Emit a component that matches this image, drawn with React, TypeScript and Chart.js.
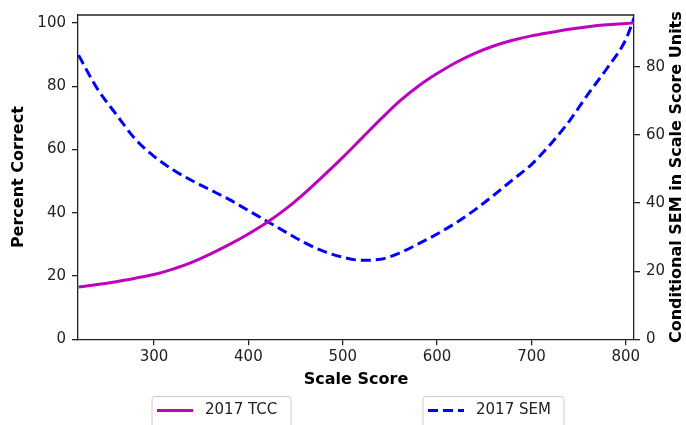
import React, { useEffect, useRef } from "react";
import { Chart, registerables } from "chart.js";

Chart.register(...registerables);

const scores = [220, 240, 260, 280, 300, 320, 340, 360, 380, 400, 420, 440, 460, 480, 500, 520, 540, 560, 580, 600, 620, 640, 660, 680, 700, 720, 740, 760, 780, 800, 809];
const tccValues = [16.5, 17.3, 18.2, 19.3, 20.5, 22.2, 24.3, 27.0, 30.0, 33.3, 37.0, 41.3, 46.3, 51.8, 57.5, 63.5, 69.5, 75.2, 80.0, 84.0, 87.5, 90.4, 92.7, 94.5, 95.9, 97.0, 98.0, 98.8, 99.4, 99.8, 100];
const semValues = [83.4, 73.5, 66.0, 58.8, 53.7, 49.8, 46.6, 43.8, 41.0, 37.8, 34.6, 31.4, 28.3, 25.8, 24.1, 23.2, 23.5, 25.3, 28.0, 30.9, 34.2, 38.0, 42.3, 46.8, 51.3, 57.2, 64.0, 72.0, 79.5, 88.0, 94.5];

const xTicks = [300, 400, 500, 600, 700, 800];
const leftTicks = [0, 20, 40, 60, 80, 100];
const rightTicks = [0, 20, 40, 60, 80];

const seriesLabels = ["2017 TCC", "2017 SEM"];
const xTitle = "Scale Score";
const leftTitle = "Percent Correct";
const rightTitle = "Conditional SEM in Scale Score Units";

const FONT = "'DejaVu Sans', sans-serif";
const INK = "#222";

const extrasPlugin = {
  id: "extras",
  afterDraw(chart: any) {
    const ctx = chart.ctx;
    const ca = chart.chartArea;
    ctx.save();
    // top spine
    ctx.strokeStyle = INK;
    ctx.lineWidth = 1.3;
    ctx.beginPath();
    ctx.moveTo(ca.left, ca.top);
    ctx.lineTo(ca.right, ca.top);
    ctx.stroke();

    // right title (bottom-to-top)
    ctx.fillStyle = "#000";
    ctx.font = `bold 16px ${FONT}`;
    ctx.textAlign = "center";
    ctx.textBaseline = "middle";
    ctx.translate(677, (ca.top + ca.bottom) / 2);
    ctx.rotate(-Math.PI / 2);
    ctx.fillText(rightTitle, 0, 0);
    ctx.restore();

    // legends: two separate boxes
    const boxes = [
      { x: 152, w: 139 },
      { x: 423, w: 141 },
    ];
    chart.data.datasets.forEach((ds: any, i: number) => {
      const b = boxes[i];
      const y = 396.5;
      const h = 34;
      ctx.save();
      ctx.fillStyle = "rgba(255,255,255,0.9)";
      ctx.strokeStyle = "#cccccc";
      ctx.lineWidth = 1;
      ctx.beginPath();
      const r = 3;
      ctx.moveTo(b.x + r, y);
      ctx.lineTo(b.x + b.w - r, y);
      ctx.arcTo(b.x + b.w, y, b.x + b.w, y + r, r);
      ctx.lineTo(b.x + b.w, y + h);
      ctx.lineTo(b.x, y + h);
      ctx.lineTo(b.x, y + r);
      ctx.arcTo(b.x, y, b.x + r, y, r);
      ctx.closePath();
      ctx.fill();
      ctx.stroke();
      const ly = 410.5;
      ctx.strokeStyle = ds.borderColor;
      ctx.lineWidth = ds.borderWidth;
      ctx.setLineDash(ds.borderDash || []);
      ctx.beginPath();
      ctx.moveTo(b.x + 5, ly);
      ctx.lineTo(b.x + 41, ly);
      ctx.stroke();
      ctx.setLineDash([]);
      ctx.fillStyle = INK;
      ctx.font = `15px ${FONT}`;
      ctx.textAlign = "left";
      ctx.textBaseline = "middle";
      ctx.fillText(ds.label, b.x + 53, ly);
      ctx.restore();
    });
  },
};

export default function App() {
  const ref = useRef<HTMLCanvasElement | null>(null);
  useEffect(() => {
    if (!ref.current) return;
    const tickFont = { family: FONT, size: 15 };
    const titleFont = { family: FONT, size: 16, weight: "bold" as const };
    const chart = new Chart(ref.current, {
      type: "line",
      data: {
        datasets: [
          {
            label: seriesLabels[0],
            data: scores.map((s, i) => ({ x: s, y: tccValues[i] })),
            borderColor: "#BF00BF",
            borderWidth: 3,
            pointRadius: 0,
            cubicInterpolationMode: "monotone",
            yAxisID: "y",
            fill: false,
          },
          {
            label: seriesLabels[1],
            data: scores.map((s, i) => ({ x: s, y: semValues[i] })),
            borderColor: "#0000FF",
            borderWidth: 3,
            borderDash: [10, 5],
            pointRadius: 0,
            cubicInterpolationMode: "monotone",
            yAxisID: "y2",
            fill: false,
          },
        ],
      },
      options: {
        responsive: false,
        animation: false,
        devicePixelRatio: 1,
        layout: { padding: { top: 12.7, left: 0, right: 0, bottom: 36 } },
        plugins: { legend: { display: false }, tooltip: { enabled: false } },
        scales: {
          x: {
            type: "linear",
            position: "bottom",
            min: 219.4,
            max: 808.7,
            afterBuildTicks: (s: any) => {
              s.ticks = xTicks.map((v) => ({ value: v }));
            },
            afterFit: (s: any) => {
              s.height = 49.7;
            },
            grid: { drawOnChartArea: false, drawTicks: true, tickLength: 6, color: INK, lineWidth: 1.3 },
            border: { display: true, color: INK, width: 1.3 },
            ticks: { font: tickFont, color: INK, padding: 3, maxRotation: 0, autoSkip: false },
            title: { display: true, text: xTitle, font: titleFont, color: "#000", padding: { top: 0, bottom: 0 } },
          },
          y: {
            type: "linear",
            position: "left",
            min: 0,
            max: 102.5,
            afterBuildTicks: (s: any) => {
              s.ticks = leftTicks.map((v) => ({ value: v }));
            },
            afterFit: (s: any) => {
              s.width = 78;
            },
            grid: { drawOnChartArea: false, drawTicks: true, tickLength: 6, color: INK, lineWidth: 1.3 },
            border: { display: true, color: INK, width: 1.3 },
            ticks: { font: tickFont, color: INK, padding: 6 },
            title: { display: true, text: leftTitle, font: titleFont, color: "#000", padding: { top: 9, bottom: 0 } },
          },
          y2: {
            type: "linear",
            position: "right",
            min: 0,
            max: 95.2,
            afterBuildTicks: (s: any) => {
              s.ticks = rightTicks.map((v) => ({ value: v }));
            },
            afterFit: (s: any) => {
              s.width = 52;
            },
            grid: { drawOnChartArea: false, drawTicks: true, tickLength: 6, color: INK, lineWidth: 1.3 },
            border: { display: true, color: INK, width: 1.3 },
            ticks: { font: tickFont, color: INK, padding: 6 },
            title: { display: false },
          },
        },
      },
      plugins: [extrasPlugin],
    });
    return () => chart.destroy();
  }, []);
  return (
    <div style={{ position: "fixed", left: 0, top: 0, width: 686, height: 425, background: "#fff" }}>
      <canvas ref={ref} width={686} height={425} />
    </div>
  );
}
